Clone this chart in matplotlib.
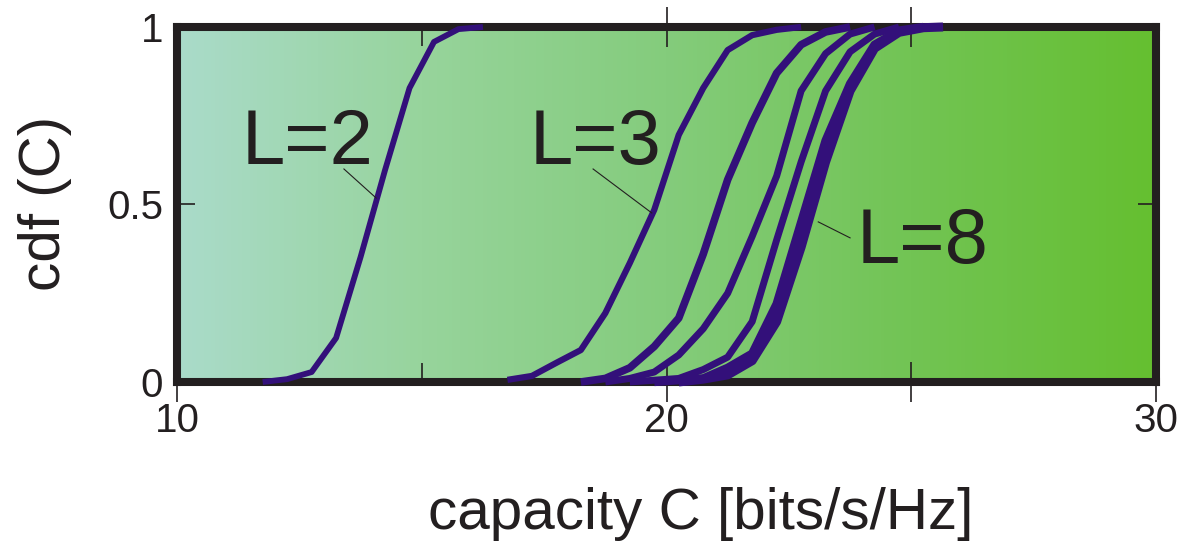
import numpy as np
import matplotlib.pyplot as plt
from matplotlib.colors import LinearSegmentedColormap

plt.rcParams['font.family'] = ['Liberation Sans', 'DejaVu Sans']

# capacity CDF curves for L = 2 ... 8
cap_L2 = [11.75, 12.25, 12.75, 13.25, 13.75, 14.25, 14.75, 15.25, 15.75, 16.25]
cdf_L2 = [0.0, 0.008, 0.028, 0.124, 0.352, 0.597, 0.828, 0.958, 0.994, 1.0]

cap_L3 = [16.75, 17.25, 17.75, 18.25, 18.75, 19.25, 19.75, 20.25, 20.75, 21.25, 21.75, 22.25, 22.75]
cdf_L3 = [0.006, 0.017, 0.054, 0.09, 0.194, 0.335, 0.485, 0.696, 0.828, 0.935, 0.977, 0.992, 1.0]

cap_L4 = [18.25, 18.75, 19.25, 19.75, 20.25, 20.75, 21.25, 21.75, 22.25, 22.75, 23.25, 23.75]
cdf_L4 = [0.0, 0.01, 0.04, 0.10, 0.18, 0.36, 0.57, 0.73, 0.87, 0.95, 0.986, 1.0]

cap_L5 = [18.75, 19.25, 19.75, 20.25, 20.75, 21.25, 21.75, 22.25, 22.75, 23.25, 23.75, 24.25]
cdf_L5 = [0.0, 0.01, 0.028, 0.076, 0.15, 0.25, 0.41, 0.58, 0.82, 0.925, 0.98, 1.0]

cap_L6 = [19.25, 19.75, 20.25, 20.75, 21.25, 21.75, 22.25, 22.75, 23.25, 23.75, 24.25, 24.75]
cdf_L6 = [0.0, 0.005, 0.01, 0.035, 0.07, 0.17, 0.40, 0.62, 0.82, 0.93, 0.98, 1.0]

cap_L7 = [19.75, 20.25, 20.75, 21.25, 21.75, 22.25, 22.75, 23.25, 23.75, 24.25, 24.75, 25.25]
cdf_L7 = [0.0, 0.005, 0.01, 0.04, 0.08, 0.22, 0.45, 0.68, 0.84, 0.95, 0.99, 1.0]

cap_L8 = [20.25, 20.75, 21.25, 21.75, 22.25, 22.75, 23.25, 23.75, 24.25, 24.75, 25.25, 25.65]
cdf_L8 = [0.0, 0.008, 0.02, 0.06, 0.17, 0.38, 0.62, 0.82, 0.94, 0.985, 0.998, 1.0]

curves = [(cap_L2, cdf_L2, 4.2), (cap_L3, cdf_L3, 4.5), (cap_L4, cdf_L4, 5.5),
          (cap_L5, cdf_L5, 5), (cap_L6, cdf_L6, 5), (cap_L7, cdf_L7, 6),
          (cap_L8, cdf_L8, 6.5)]

ink = '#231f20'
line_col = '#33107a'

fig = plt.figure(figsize=(11.92, 5.54), dpi=100)
ax = fig.add_axes([0.1485, 0.3105, 0.8213, 0.6408])

# horizontal background gradient
bg = LinearSegmentedColormap.from_list(
    'bg', ['#aadbca', '#97d49c', '#84cc7c', '#72c454', '#65bf30'])
grad = np.linspace(0, 1, 256).reshape(1, -1)
ax.imshow(grad, cmap=bg, aspect='auto', extent=[10, 30, 0, 1], zorder=0)

for cap, cdf, lw in curves:
    ax.plot(cap, cdf, color=line_col, lw=lw, solid_capstyle='butt',
            zorder=3, clip_on=False)

ax.set_xlim(10, 30)
ax.set_ylim(0, 1)

for s in ax.spines.values():
    s.set_linewidth(5.8)
    s.set_color(ink)
    s.set_zorder(2.5)

ax.set_xticks([10, 20, 25, 30])
ax.set_xticklabels(['10', '20', '', '30'])
ax.set_xticks([15], minor=True)
ax.set_yticks([0, 0.5, 1])
ax.set_yticklabels(['0', '0.5', '1'])
ax.tick_params(axis='x', which='major', direction='inout', length=29,
               width=1.2, color=ink, labelsize=29, labelcolor=ink, pad=0)
ax.tick_params(axis='x', which='minor', direction='in', length=14,
               width=1.2, color=ink)
ax.tick_params(axis='y', direction='in', length=13, width=1.2, color=ink,
               right=True, labelsize=29, labelcolor=ink, pad=10)

# top edge ticks without labels
top = ax.secondary_xaxis('top')
top.set_xticks([20, 25])
top.set_xticks([15], minor=True)
top.set_xticklabels([])
top.tick_params(which='major', direction='inout', length=29, width=1.2,
                color=ink)
top.tick_params(which='minor', direction='in', length=14, width=1.2,
                color=ink)
top.spines['top'].set_visible(False)

# curve labels with leader lines
lab_kw = dict(fontsize=56, color=ink, ha='left', va='baseline', zorder=4)
ax.text(11.33, 0.614, 'L=2', **lab_kw)
ax.text(17.21, 0.614, 'L=3', **lab_kw)
ax.text(23.89, 0.335, 'L=8', **lab_kw)
ax.plot([13.41, 14.07], [0.60, 0.518], color=ink, lw=0.8, zorder=4)
ax.plot([18.50, 19.70], [0.60, 0.476], color=ink, lw=0.8, zorder=4)
ax.plot([23.10, 23.75], [0.451, 0.406], color=ink, lw=0.8, zorder=4)

fig.text(0.588, 0.045, 'capacity C [bits/s/Hz]', fontsize=42, color=ink,
         ha='center', va='baseline')
fig.text(0.038, 0.632, 'cdf (C)', fontsize=42, color=ink, rotation=90,
         ha='center', va='center')

fig.savefig('out.png', dpi=100)
